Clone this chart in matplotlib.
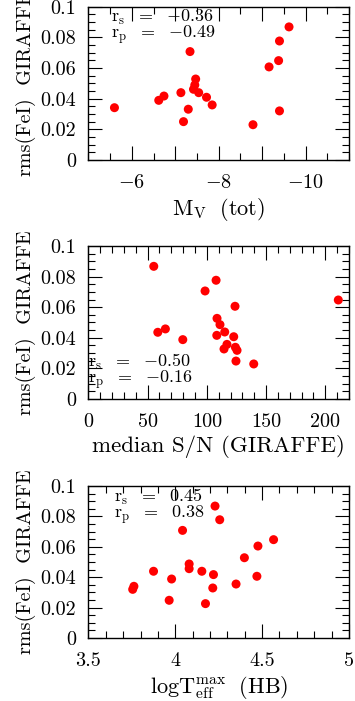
import matplotlib
matplotlib.use("Agg")
import matplotlib.pyplot as plt
from matplotlib.ticker import MultipleLocator, FixedLocator, FixedFormatter

plt.rcParams['font.family'] = ['cmr10', 'DejaVu Serif']
plt.rcParams['mathtext.fontset'] = 'cm'
plt.rcParams['axes.unicode_minus'] = False

# ---- data ----
rms_fe = [0.0341, 0.0389, 0.0417, 0.0439, 0.0707, 0.0331, 0.0250, 0.0528, 0.0489, 0.0461,
          0.0439, 0.0409, 0.0359, 0.0230, 0.0607, 0.0648, 0.0776, 0.0868, 0.0320]
mv_tot = [-5.60, -6.62, -6.74, -7.13, -7.34, -7.30, -7.19, -7.47, -7.45, -7.42,
          -7.54, -7.72, -7.85, -8.79, -9.16, -9.38, -9.40, -9.62, -9.40]

sn_rms = [0.0867, 0.0776, 0.0706, 0.0606, 0.0647, 0.0436, 0.0458, 0.0388, 0.0527, 0.0486,
          0.0416, 0.0438, 0.0407, 0.0357, 0.0327, 0.0338, 0.0318, 0.0248, 0.0229]
median_sn = [55.2, 107.8, 98.5, 123.8, 211.0, 58.6, 65.0, 79.7, 108.6, 111.1,
             108.4, 115.1, 122.7, 117.0, 114.5, 124.1, 125.5, 124.6, 139.6]

hb_rms = [0.0868, 0.0778, 0.0708, 0.0647, 0.0605, 0.0528, 0.0487, 0.0456, 0.0439, 0.0439,
          0.0417, 0.0406, 0.0388, 0.0355, 0.0340, 0.0320, 0.0329, 0.0248, 0.0226]
logteff_max = [4.229, 4.256, 4.042, 4.566, 4.476, 4.398, 4.080, 4.080, 3.875, 4.153,
               4.220, 4.470, 3.979, 4.350, 3.762, 3.755, 4.216, 3.965, 4.174]

ytick_vals = [0, 0.02, 0.04, 0.06, 0.08, 0.1]
ytick_labels = ['0', '0.02', '0.04', '0.06', '0.08', '0.1']
mv_ticks = [-6, -7, -8, -9, -10]
mv_labels = ['$-$6', '', '$-$8', '', '$-$10']
sn_ticks = [0, 50, 100, 150, 200]
sn_labels = ['0', '50', '100', '150', '200']
hb_ticks = [3.5, 4.0, 4.5, 5.0]
hb_labels = ['3.5', '4', '4.5', '5']

corr1 = ('{-}0.36', '{-}0.49')
corr2 = ('{-}0.50', '{-}0.16')
corr3 = ('0.45', '0.38')

fig = plt.figure(figsize=(3.55, 7.01), dpi=100)
L, W = 0.249, 0.734
axes = [fig.add_axes([L, 0.7718, W, 0.2187]),
        fig.add_axes([L, 0.4308, W, 0.2183]),
        fig.add_axes([L, 0.0899, W, 0.2168])]

red = '#ff0000'
tfs = 14.5

def style(ax):
    ax.set_ylim(0, 0.1)
    ax.yaxis.set_major_locator(FixedLocator(ytick_vals))
    ax.yaxis.set_major_formatter(FixedFormatter(ytick_labels))
    ax.yaxis.set_minor_locator(MultipleLocator(0.005))
    ax.tick_params(which='both', direction='in', top=True, right=True, labelsize=tfs)
    ax.tick_params(which='major', length=10, width=0.8)
    ax.tick_params(which='minor', length=5, width=0.8)
    ax.tick_params(axis='y', pad=9)
    ax.tick_params(axis='x', pad=10)
    for s in ax.spines.values():
        s.set_linewidth(1.0)
    ax.set_ylabel('rms(FeI)  GIRAFFE', fontsize=14.5, labelpad=6)

def corr_text(ax, x, ymid, vals):
    s = (r'$\mathrm{r_s}\ \ =\ \ %s$' % vals[0]) + '\n' + (r'$\mathrm{r_p}\ \ =\ \ %s$' % vals[1])
    ax.text(x, ymid, s, transform=ax.transAxes, fontsize=13, va='center', ha='left',
            linespacing=0.8)

ax = axes[0]
ax.scatter(mv_tot, rms_fe, s=42, color=red, edgecolors='none', zorder=3)
ax.set_xlim(-5, -11)
ax.xaxis.set_major_locator(FixedLocator(mv_ticks))
ax.xaxis.set_major_formatter(FixedFormatter(mv_labels))
ax.xaxis.set_minor_locator(MultipleLocator(0.5))
style(ax)
ax.set_xlabel(r'$\mathrm{M_V\ \ (tot)}$', fontsize=16, labelpad=3)
corr_text(ax, 0.085, 0.865, corr1)

ax = axes[1]
ax.scatter(median_sn, sn_rms, s=42, color=red, edgecolors='none', zorder=3)
ax.set_xlim(0, 220)
ax.xaxis.set_major_locator(FixedLocator(sn_ticks))
ax.xaxis.set_major_formatter(FixedFormatter(sn_labels))
ax.xaxis.set_minor_locator(MultipleLocator(10))
style(ax)
ax.set_xlabel('median S/N (GIRAFFE)', fontsize=16.5, labelpad=3)
corr_text(ax, 0.0, 0.18, corr2)

ax = axes[2]
ax.scatter(logteff_max, hb_rms, s=42, color=red, edgecolors='none', zorder=3)
ax.set_xlim(3.5, 5.0)
ax.xaxis.set_major_locator(FixedLocator(hb_ticks))
ax.xaxis.set_major_formatter(FixedFormatter(hb_labels))
ax.xaxis.set_minor_locator(MultipleLocator(0.1))
style(ax)
ax.set_xlabel(r'$\mathrm{logT_{eff}^{max}\ \ (HB)}$', fontsize=16, labelpad=3)
corr_text(ax, 0.1, 0.865, corr3)

for ax in axes:
    ax.yaxis.set_label_coords(-0.20, 0.5)

fig.savefig('out.png', dpi=100)
